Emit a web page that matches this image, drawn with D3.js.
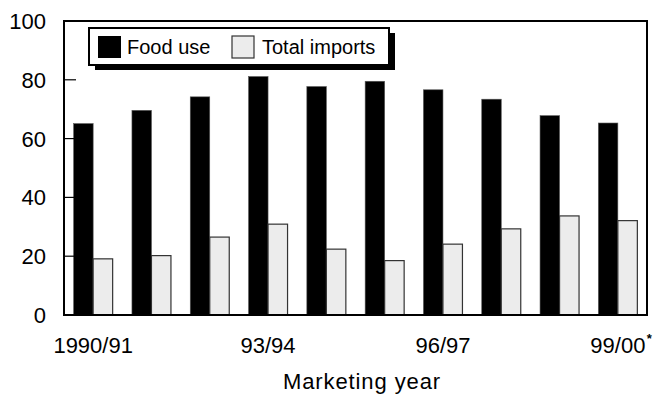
<!DOCTYPE html>
<html>
<head>
<meta charset="utf-8">
<script src="https://cdn.jsdelivr.net/npm/d3@7"></script>
<style>
  body { margin: 0; background: #fff; }
  svg { display: block; }
  text { font-family: "Liberation Sans", Arial, sans-serif; fill: #000; }
</style>
</head>
<body>
<svg id="chart"></svg>
<script>
// marketing years and series (million tons)
const years = ["1990/91", "91/92", "92/93", "93/94", "94/95", "95/96", "96/97", "97/98", "98/99", "99/00"];
const shownLabels = ["1990/91", "93/94", "96/97", "99/00"];
const foodUse = [65.1, 69.6, 74.2, 81.1, 77.7, 79.5, 76.6, 73.4, 67.8, 65.3];
const totalImports = [19.1, 20.2, 26.5, 30.9, 22.4, 18.5, 24.1, 29.3, 33.7, 32.1];
const yTicks = [0, 20, 40, 60, 80, 100];

const width = 654, height = 396;
const margin = {top: 21, right: 7, bottom: 81, left: 64};
const innerW = width - margin.left - margin.right;
const innerH = height - margin.top - margin.bottom;

const svg = d3.select("#chart").attr("width", width).attr("height", height);
const chart = svg.append("g").attr("transform", `translate(${margin.left},${margin.top})`);

const x = d3.scaleBand().domain(years).range([0, innerW]).paddingInner(0).paddingOuter(0);
const y = d3.scaleLinear().domain([0, 100]).range([innerH, 0]);

const groupW = 39;
const barW = 19.5;

// bars
const groups = chart.selectAll(".grp")
    .data(years)
    .enter()
    .append("g")
    .attr("transform", d => `translate(${x(d) + (x.bandwidth() - groupW) / 2},0)`);

groups.append("rect")
    .attr("x", 0)
    .attr("y", (d, i) => y(foodUse[i]))
    .attr("width", barW)
    .attr("height", (d, i) => innerH - y(foodUse[i]))
    .attr("fill", "#000")
    .attr("stroke", "#555")
    .attr("stroke-width", 0.6);

groups.append("rect")
    .attr("x", barW)
    .attr("y", (d, i) => y(totalImports[i]))
    .attr("width", barW)
    .attr("height", (d, i) => innerH - y(totalImports[i]))
    .attr("fill", "#ececec")
    .attr("stroke", "#333")
    .attr("stroke-width", 1.2);

// inward ticks on the left axis
chart.selectAll(".ytick")
    .data(yTicks.filter(d => d > 0 && d < 100))
    .enter()
    .append("line")
    .attr("x1", 0).attr("x2", 12)
    .attr("y1", d => y(d)).attr("y2", d => y(d))
    .attr("stroke", "#000")
    .attr("stroke-width", 1.2);

// plot frame
chart.append("rect")
    .attr("x", 0).attr("y", 0)
    .attr("width", innerW).attr("height", innerH)
    .attr("fill", "none")
    .attr("stroke", "#000")
    .attr("stroke-width", 2);

// y labels
chart.selectAll(".ylab")
    .data(yTicks)
    .enter()
    .append("text")
    .attr("x", -18)
    .attr("y", d => y(d))
    .attr("dy", "0.36em")
    .attr("text-anchor", "end")
    .attr("font-size", "22px")
    .text(d => d);

// x labels
chart.selectAll(".xlab")
    .data(shownLabels)
    .enter()
    .append("text")
    .attr("x", d => x(d) + x.bandwidth() / 2)
    .attr("y", innerH + 38)
    .attr("text-anchor", "middle")
    .attr("font-size", "22px")
    .text(d => d);

chart.append("text")
    .attr("x", x("99/00") + x.bandwidth() / 2 + 29)
    .attr("y", innerH + 28)
    .attr("font-size", "13px")
    .attr("font-weight", "bold")
    .text("*");

// axis title
svg.append("text")
    .attr("x", 362)
    .attr("y", 389)
    .attr("text-anchor", "middle")
    .attr("font-size", "22px")
    .attr("letter-spacing", "0.9px")
    .text("Marketing year");

// legend with drop shadow
const lg = svg.append("g").attr("transform", "translate(89,28)");
lg.append("rect").attr("x", 6).attr("y", 5).attr("width", 300).attr("height", 37).attr("fill", "#000");
lg.append("rect").attr("x", 0).attr("y", 0).attr("width", 300).attr("height", 37)
    .attr("fill", "#fff").attr("stroke", "#000").attr("stroke-width", 2);
lg.append("rect").attr("x", 9).attr("y", 8).attr("width", 23).attr("height", 22).attr("fill", "#000");
lg.append("text").attr("x", 38).attr("y", 26).attr("font-size", "20px").text("Food use");
lg.append("rect").attr("x", 143).attr("y", 8).attr("width", 22).attr("height", 22)
    .attr("fill", "#ececec").attr("stroke", "#333").attr("stroke-width", 1.2);
lg.append("text").attr("x", 173).attr("y", 26).attr("font-size", "20px").text("Total imports");
</script>
</body>
</html>
